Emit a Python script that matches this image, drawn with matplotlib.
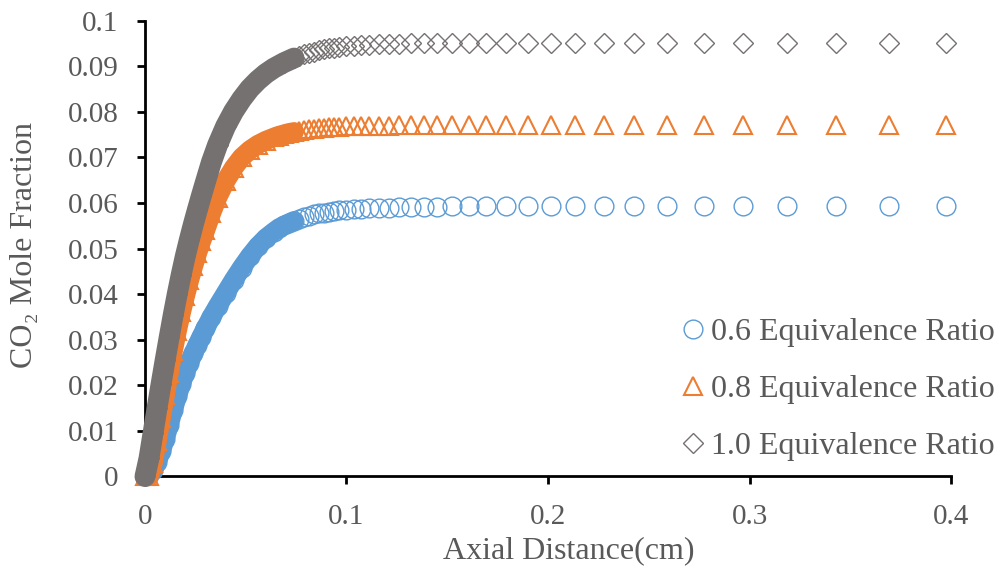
import matplotlib
matplotlib.use("Agg")
import matplotlib.pyplot as plt
from matplotlib.ticker import FixedLocator, FixedFormatter

# ==========================================================
# DATA
# ==========================================================
x_cm = [
    0.000, 0.002, 0.004, 0.006, 0.008, 0.010, 0.012, 0.014, 0.016, 0.018,
    0.020, 0.022, 0.024, 0.026, 0.028, 0.030, 0.033, 0.036, 0.040, 0.044,
    0.048, 0.052, 0.056, 0.060, 0.064, 0.0665, 0.069, 0.0715, 0.074, 0.0765,
    0.079, 0.0815, 0.084, 0.0865, 0.089, 0.0915, 0.094, 0.0965, 0.100, 0.1035,
    0.1073, 0.1114, 0.1159, 0.1209, 0.1262, 0.1320, 0.1383, 0.1449, 0.1524, 0.1606,
    0.1694, 0.1792, 0.1901, 0.2015, 0.2136, 0.2277, 0.2426, 0.2592, 0.2773, 0.2969,
    0.3188, 0.3428, 0.3690, 0.3974,
]

co2_phi06 = [
    0.0000, 0.0003, 0.0015, 0.0032, 0.0055, 0.0083, 0.0114, 0.0146, 0.0176, 0.0203,
    0.0228, 0.0250, 0.0270, 0.0289, 0.0307, 0.0325, 0.0350, 0.0373, 0.0402, 0.0431,
    0.0458, 0.0483, 0.0505, 0.0523, 0.0537, 0.0545, 0.0551, 0.0556, 0.0561, 0.0565,
    0.0569, 0.0572, 0.0575, 0.0577, 0.0579, 0.0581, 0.0583, 0.0584, 0.0585, 0.0586,
    0.0587, 0.0588, 0.0589, 0.0590, 0.0591, 0.0591, 0.0592, 0.0592, 0.0593, 0.0593,
    0.0593, 0.0593, 0.0593, 0.0593, 0.0593, 0.0593, 0.0593, 0.0593, 0.0593, 0.0593,
    0.0593, 0.0593, 0.0593, 0.0593,
]

co2_phi08 = [
    0.0000, 0.0000, 0.0030, 0.0078, 0.0128, 0.0178, 0.0228, 0.0276, 0.0320, 0.0360,
    0.0396, 0.0430, 0.0461, 0.0490, 0.0516, 0.0540, 0.0578, 0.0612, 0.0648, 0.0677,
    0.0700, 0.0716, 0.0728, 0.0737, 0.0744, 0.0748, 0.0751, 0.0754, 0.0756, 0.0758,
    0.0760, 0.0762, 0.0763, 0.0764, 0.0765, 0.0766, 0.0767, 0.0767, 0.0768, 0.0769,
    0.0769, 0.0770, 0.0770, 0.0770, 0.0771, 0.0771, 0.0771, 0.0771, 0.0771, 0.0771,
    0.0771, 0.0771, 0.0771, 0.0771, 0.0771, 0.0771, 0.0771, 0.0771, 0.0771, 0.0771,
    0.0771, 0.0771, 0.0771, 0.0771,
]

co2_phi10 = [
    0.0000, 0.0040, 0.0095, 0.0150, 0.0203, 0.0255, 0.0305, 0.0354, 0.0400, 0.0443,
    0.0483, 0.0519, 0.0553, 0.0585, 0.0616, 0.0646, 0.0690, 0.0727, 0.0768, 0.0801,
    0.0828, 0.0851, 0.0869, 0.0884, 0.0896, 0.0902, 0.0908, 0.0913, 0.0918, 0.0922,
    0.0926, 0.0929, 0.0932, 0.0935, 0.0937, 0.0939, 0.0941, 0.0942, 0.0944, 0.0945,
    0.0946, 0.0947, 0.0948, 0.0949, 0.0949, 0.0950, 0.0950, 0.0950, 0.0951, 0.0951,
    0.0951, 0.0951, 0.0951, 0.0951, 0.0951, 0.0951, 0.0951, 0.0951, 0.0951, 0.0951,
    0.0951, 0.0951, 0.0951, 0.0951,
]

series_labels = ["0.6 Equivalence Ratio", "0.8 Equivalence Ratio", "1.0 Equivalence Ratio"]
x_ticks = [0.0, 0.1, 0.2, 0.3, 0.4]
x_tick_labels = ["0", "0.1", "0.2", "0.3", "0.4"]
y_ticks = [0.0, 0.01, 0.02, 0.03, 0.04, 0.05, 0.06, 0.07, 0.08, 0.09, 0.1]
y_tick_labels = ["0", "0.01", "0.02", "0.03", "0.04", "0.05", "0.06", "0.07", "0.08", "0.09", "0.1"]

# ==========================================================
# STYLE
# ==========================================================
TEXT_COLOR = "#595959"
plt.rcParams["font.family"] = ["Liberation Serif", "DejaVu Serif"]

# the dense part near the inlet is so packed with markers that it reads as a solid band
N_BAND = 29  # points up to x = 0.074 cm

styles = [
    dict(color="#5B9BD5", marker="o", ms=13.5, mew=1.0, band=14.0),
    dict(color="#ED7D31", marker="^", ms=13.0, mew=1.5, band=14.0),
    dict(color="#767171", marker="D", ms=10.0, mew=1.0, band=15.0),
]

fig = plt.figure(figsize=(9.99, 5.68), dpi=100)
ax = fig.add_axes([0.1451, 0.1611, 0.952 - 0.1451, 0.9636 - 0.1611])

for y, lab, st in zip([co2_phi06, co2_phi08, co2_phi10], series_labels, styles):
    ax.plot(x_cm[:N_BAND], y[:N_BAND], color=st["color"], lw=st["band"],
            solid_capstyle="round", solid_joinstyle="round", clip_on=False)
    ax.plot(x_cm, y, ls="none", marker=st["marker"], ms=st["ms"], mfc="none",
            mec=st["color"], mew=st["mew"], clip_on=False, label=lab)

ax.set_xlim(0, 0.4)
ax.set_ylim(0, 0.1)
ax.xaxis.set_major_locator(FixedLocator(x_ticks))
ax.xaxis.set_major_formatter(FixedFormatter(x_tick_labels))
ax.yaxis.set_major_locator(FixedLocator(y_ticks))
ax.yaxis.set_major_formatter(FixedFormatter(y_tick_labels))

for side in ["top", "right"]:
    ax.spines[side].set_visible(False)
for side in ["left", "bottom"]:
    ax.spines[side].set_linewidth(2.0)
    ax.spines[side].set_color("black")
    ax.spines[side].set_zorder(0.5)

ax.tick_params(axis="both", direction="out", length=6, width=2.0, color="black",
               labelsize=21, labelcolor=TEXT_COLOR)
ax.tick_params(axis="x", pad=14)
ax.tick_params(axis="y", pad=13)

ax.set_xlabel("Axial Distance(cm)", fontsize=23, color=TEXT_COLOR, va="center")
ax.xaxis.set_label_coords(0.526, -0.163)
ax.set_ylabel("CO\u2082 Mole Fraction", fontsize=23, color=TEXT_COLOR, va="center")
ax.yaxis.set_label_coords(-0.149, 0.508)

leg = ax.legend(loc="upper left", bbox_to_anchor=(0.678, 0.4401),
                bbox_transform=fig.transFigure, frameon=False, fontsize=23,
                numpoints=1, handlelength=1.0, handletextpad=0.05,
                labelspacing=0.86, borderpad=0, borderaxespad=0)
for t in leg.get_texts():
    t.set_color(TEXT_COLOR)

fig.savefig("out.png", dpi=100)
